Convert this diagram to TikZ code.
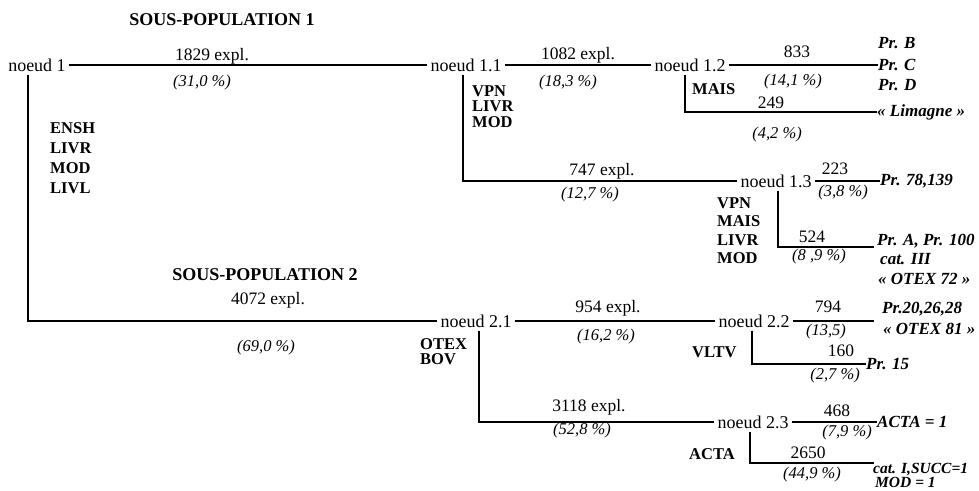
\documentclass[tikz,border=0pt]{standalone}
\usepackage{fontspec}
\setmainfont{Liberation Serif}
\usepackage{tikz}
\usetikzlibrary{positioning}

\begin{document}
\begin{tikzpicture}[x=1pt,y=-1pt,
noeud/.style={font=\fontsize{18}{20}\selectfont,inner sep=3pt},
effectif/.style={font=\fontsize{17.5}{20}\selectfont,inner sep=0pt},
taux/.style={font=\itshape\fontsize{16.5}{20}\selectfont,inner sep=0pt},
critere/.style={font=\bfseries\fontsize{16.5}{#1}\selectfont,
align=left,anchor=north west,inner sep=0pt},
critere/.default=19pt,
profil/.style={font=\bfseries\itshape\fontsize{17}{20}\selectfont,
anchor=west,inner sep=0pt},
petit/.style={font=\bfseries\itshape\fontsize{15.5}{18}\selectfont,
anchor=base west},
titre/.style={font=\bfseries\fontsize{18}{20}\selectfont,inner sep=0pt},
branche/.style={line width=1.2pt}]
\useasboundingbox (0,0) rectangle (979,490);

% sous-population 1
\node[titre] (titre1) at (222,20) {SOUS-POPULATION 1};
\node[noeud] (n1) at (37,65) {noeud 1};
\node[noeud] (n11) at (466,65) {noeud 1.1};
\node[noeud] (n12) at (690,65) {noeud 1.2};
\node[noeud] (n13) at (776,181) {noeud 1.3};

\node[effectif] (e1) at (212,56) {1829 expl.};
\node[taux] (t1) at (202,83) {(31,0~\%)};
\node[critere=20pt] (c1) at (50,122) {ENSH\\LIVR\\MOD\\LIVL};

\node[effectif] (e11) at (578,55) {1082 expl.};
\node[taux] (t11) at (568,83) {(18,3~\%)};
\node[critere=15.5pt] (c11) at (472,85) {VPN\\LIVR\\MOD};
\node[effectif] (e11b) at (602,171) {747 expl.};
\node[taux] (t11b) at (590,195) {(12,7~\%)};

\node[effectif] (e12) at (797,52) {833};
\node[taux] (t12) at (793,82) {(14,1~\%)};
\node[critere] (c12) at (692,83) {MAIS};
\node[effectif] (e12b) at (771,103) {249};
\node[taux] (t12b) at (777,135) {(4,2~\%)};
\node[profil] (pB) at (878,43) {Pr. B};
\node[profil] (pC) at (878,65) {Pr. C};
\node[profil] (pD) at (878,85) {Pr. D};
\node[profil] (pLim) at (877,112) {«~Limagne~»};

\node[effectif] (e13) at (835,169) {223};
\node[taux] (t13) at (843,193) {(3,8~\%)};
\node[critere=18.5pt] (c13) at (717,197) {VPN\\MAIS\\LIVR\\MOD};
\node[effectif] (e13b) at (812,237) {524};
\node[taux] (t13b) at (819,257) {(8 ,9~\%)};
\node[profil] (p78) at (880,181) {Pr. 78,139};
\coordinate (f13) at (874,247);
\node[profil] (pA) at (877,241) {Pr. A, Pr. 100};
\node[profil] (pIII) at (880,259) {cat. III};
\node[profil] (p72) at (878,279) {«~OTEX 72~»};

\draw[branche] (n1.east) -- (n11.west);
\draw[branche] (n11.east) -- (n12.west);
\draw[branche] (n12.east) -- (pC.west);
\draw[branche] ([xshift=-5pt]n12.south) |- (pLim.west);
\draw[branche] ([xshift=-3pt]n11.south) |- (n13.west);
\draw[branche] (n13.east) -- (p78.west);
\draw[branche] ([xshift=2pt]n13.south) |- (f13);

% sous-population 2
\node[titre] (titre2) at (265,275) {SOUS-POPULATION 2};
\node[noeud] (n21) at (476,321) {noeud 2.1};
\node[noeud] (n22) at (754,321) {noeud 2.2};
\node[noeud] (n23) at (753,422) {noeud 2.3};

\node[effectif] (e2) at (268,300) {4072 expl.};
\node[taux] (t2) at (266,348) {(69,0~\%)};

\node[effectif] (e21) at (608,308) {954 expl.};
\node[taux] (t21) at (606,337) {(16,2~\%)};
\node[critere=15pt] (c21) at (420,338) {OTEX\\BOV};
\node[effectif] (e21b) at (589,407) {3118 expl.};
\node[taux] (t21b) at (582,431) {(52,8~\%)};

\node[effectif] (e22) at (828,307) {794};
\node[taux] (t22) at (826,332) {(13,5)};
\coordinate (f22) at (874,321);
\node[profil] (p20) at (882,309) {Pr.20,26,28};
\node[profil] (p81) at (883,329) {«~OTEX 81~»};
\node[critere] (c22) at (692,346) {VLTV};
\node[effectif] (e22b) at (841,351) {160};
\node[taux] (t22b) at (835,376) {(2,7~\%)};
\node[profil] (p15) at (866,364) {Pr. 15};

\node[effectif] (e23) at (837,411) {468};
\node[taux] (t23) at (847,433) {(7,9~\%)};
\node[profil] (pACTA) at (877,422) {ACTA = 1};
\node[critere] (c23) at (689,448) {ACTA};
\node[effectif] (e23b) at (808,453) {2650};
\node[taux] (t23b) at (812,475) {(44,9~\%)};
\coordinate (f23) at (874,463);
\node[petit,inner sep=0pt] (pI) at (873,473) {cat. I,SUCC=1};
\node[petit,inner sep=0pt] (pMOD) at (875,487.5) {MOD = 1};

\draw[branche] ([xshift=-9pt]n1.south) |- (n21.west);
\draw[branche] (n21.east) -- (n22.west);
\draw[branche] (n22.east) -- (f22);
\draw[branche] ([xshift=-2pt]n22.south) |- (p15.west);
\draw[branche] ([xshift=3pt]n21.south) |- (n23.west);
\draw[branche] (n23.east) -- (pACTA.west);
\draw[branche] ([xshift=-3pt]n23.south) |- (f23);
\end{tikzpicture}
\end{document}
